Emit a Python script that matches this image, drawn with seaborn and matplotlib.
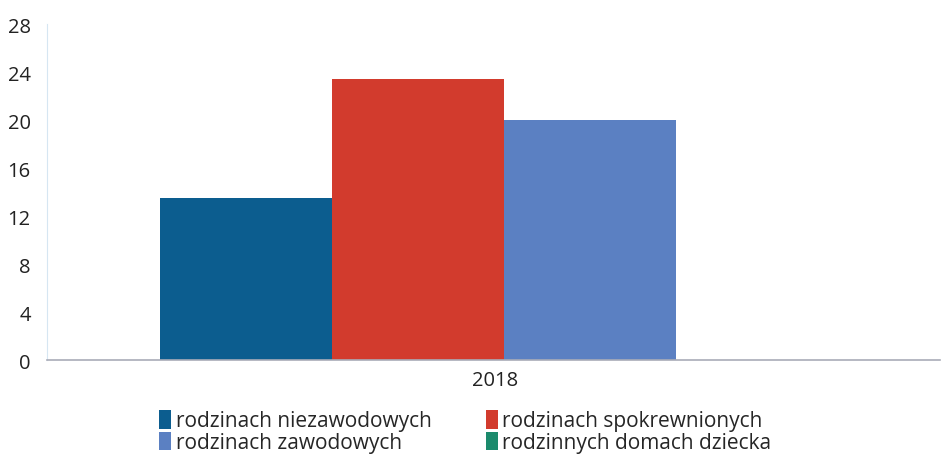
import matplotlib
matplotlib.use("Agg")
import matplotlib.pyplot as plt
from matplotlib.patches import Patch
import pandas as pd
import seaborn as sns

years = ["2018"]
categories = [
    "rodzinach niezawodowych",
    "rodzinach spokrewnionych",
    "rodzinach zawodowych",
    "rodzinnych domach dziecka",
]
values = [13.5, 23.4, 20.0, 0.0]
colors = ["#0c5d8f", "#d23b2d", "#5b80c2", "#1b8a6c"]
y_ticks = [0, 4, 8, 12, 16, 20, 24, 28]

df = pd.DataFrame({"rok": years * len(categories), "kategoria": categories, "wartosc": values})

sns.set_theme(style="white")
plt.rcParams["font.family"] = ["Open Sans", "DejaVu Sans"]

fig = plt.figure(figsize=(9.46, 4.56), dpi=100)
ax = fig.add_axes([0.05, 0.208, 0.944, 0.737])

sns.barplot(data=df, x="rok", y="wartosc", hue="kategoria", hue_order=categories,
            palette=colors, width=0.8, saturation=1, legend=False, ax=ax, linewidth=0)

ax.set_xlim(-0.531, 0.507)
ax.set_ylim(0, 28)
ax.set_yticks(y_ticks)
ax.set_yticklabels([str(t) for t in y_ticks], fontsize=14.5, color="#222222")
ax.set_xticks([-0.01])
ax.set_xticklabels(years)
ax.tick_params(axis="x", labelsize=14.5, colors="#222222", length=0, pad=7)
ax.tick_params(axis="y", length=0, pad=12)
ax.set_xlabel("")
ax.set_ylabel("")

for side in ["top", "right"]:
    ax.spines[side].set_visible(False)
ax.spines["left"].set_color("#d6e6f2")
ax.spines["left"].set_linewidth(0.8)
ax.spines["bottom"].set_color("#a9acb8")
ax.spines["bottom"].set_linewidth(1.2)

# legend: column-wise order niezawodowych, zawodowych | spokrewnionych, domach dziecka
order = [0, 2, 1, 3]
handles = [Patch(facecolor=colors[i], edgecolor="none") for i in order]
labels = [categories[i] for i in order]
fig.legend(handles, labels, ncol=2, loc="upper left", bbox_to_anchor=(0.168, 0.099),
           frameon=False, fontsize=15, handlelength=0.6, handleheight=1.0,
           handletextpad=0.2, columnspacing=2.6, labelspacing=0.02,
           borderaxespad=0, borderpad=0)

fig.savefig("out.png", dpi=100)
